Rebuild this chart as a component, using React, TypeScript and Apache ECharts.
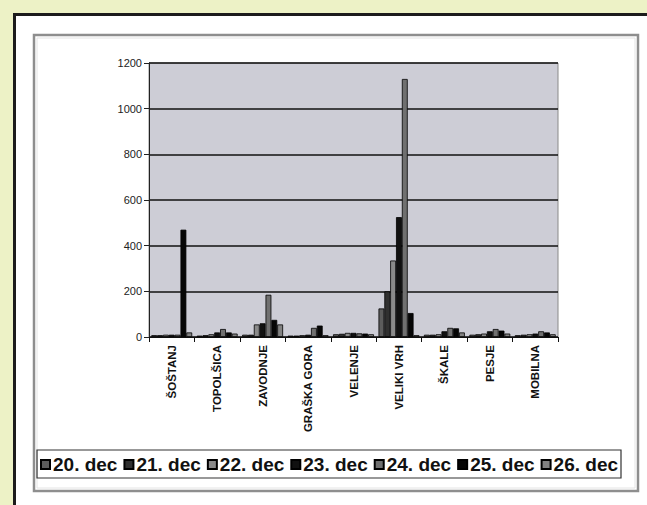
import React, { useEffect, useRef } from "react";
import * as echarts from "echarts";

const categories = ["ŠOŠTANJ", "TOPOLŠICA", "ZAVODNJE", "GRAŠKA GORA", "VELENJE", "VELIKI VRH", "ŠKALE", "PESJE", "MOBILNA"];
const seriesNames = ["20. dec", "21. dec", "22. dec", "23. dec", "24. dec", "25. dec", "26. dec"];
const dec20 = [8, 6, 10, 6, 12, 125, 10, 10, 8];
const dec21 = [8, 8, 10, 6, 14, 200, 10, 12, 10];
const dec22 = [10, 12, 55, 8, 18, 335, 12, 15, 12];
const dec23 = [10, 20, 60, 10, 18, 525, 25, 25, 15];
const dec24 = [10, 35, 185, 40, 16, 1130, 40, 35, 25];
const dec25 = [470, 20, 75, 50, 15, 105, 38, 28, 20];
const dec26 = [20, 15, 55, 8, 12, 8, 20, 15, 12];
const seriesValues = [dec20, dec21, dec22, dec23, dec24, dec25, dec26];
const seriesColors = ["#5c5c5c", "#303030", "#8a8a8a", "#111111", "#707070", "#060606", "#828282"];
const yTicks = { min: 0, max: 1200, interval: 200 };

export default function App() {
  const ref = useRef<HTMLDivElement>(null);
  useEffect(() => {
    document.body.style.margin = "0";
    const chart = echarts.init(ref.current!, undefined, { renderer: "svg" });
    chart.setOption({
      animation: false,
      backgroundColor: "#edf2c6",
      graphic: [
        { type: "rect", z: -10, shape: { x: 14, y: 14, width: 640, height: 500 }, style: { fill: "#ffffff" } },
        { type: "line", z: -9, shape: { x1: 14.5, y1: 14.5, x2: 647, y2: 14.5 }, style: { stroke: "#1c1c1c", lineWidth: 3 } },
        { type: "line", z: -9, shape: { x1: 14.5, y1: 13, x2: 14.5, y2: 505 }, style: { stroke: "#1c1c1c", lineWidth: 3 } },
        { type: "rect", z: -9, shape: { x: 34, y: 35, width: 604, height: 456 }, style: { fill: "#ffffff", stroke: "#8e8e8e", lineWidth: 2.5 } },
        { type: "rect", z: -8, shape: { x: 37, y: 38, width: 598, height: 450 }, style: { fill: "#ffffff", stroke: "#e4e4e4", lineWidth: 1 } },
        { type: "rect", z: 5, shape: { x: 37, y: 450, width: 584, height: 28 }, style: { fill: "none", stroke: "#333", lineWidth: 1.2 } },
      ],
      grid: {
        left: 149, top: 63, width: 409, height: 274,
        show: true, backgroundColor: "#cdcdd6", borderColor: "#8a8a8a", borderWidth: 1,
      },
      legend: {
        left: 40, top: 455, itemGap: 6, itemWidth: 9, itemHeight: 9, icon: "rect",
        padding: 0,
        textStyle: { fontSize: 19, fontWeight: "bold", fontFamily: "Liberation Sans, Arial, sans-serif", color: "#111", padding: [0, 0, 0, -2] },
        data: seriesNames,
      },
      xAxis: {
        type: "category", data: categories,
        axisLine: { lineStyle: { color: "#111", width: 1 } },
        axisTick: { show: true, interval: 0, length: 5, lineStyle: { color: "#111" } },
        axisLabel: { rotate: 90, interval: 0, margin: 8, fontSize: 11.5, fontWeight: "bold", fontFamily: "Liberation Sans, Arial, sans-serif", color: "#111" },
      },
      yAxis: {
        type: "value", min: yTicks.min, max: yTicks.max, interval: yTicks.interval,
        axisLine: { show: true, lineStyle: { color: "#222", width: 1 } },
        axisTick: { show: true, length: 5, lineStyle: { color: "#222" } },
        axisLabel: { margin: 7, fontSize: 11, fontFamily: "Liberation Sans, Arial, sans-serif", color: "#222", formatter: (v: number) => String(v) },
        splitLine: { lineStyle: { color: "#111", width: 1.5 } },
      },
      series: seriesNames.map((name, i) => ({
        name, type: "bar", data: seriesValues[i],
        barGap: "0%", barCategoryGap: "10%",
        itemStyle: { color: seriesColors[i], borderColor: "#000", borderWidth: 0.8 },
      })),
    });
    return () => chart.dispose();
  }, []);
  return <div ref={ref} style={{ width: 647, height: 505 }} />;
}
